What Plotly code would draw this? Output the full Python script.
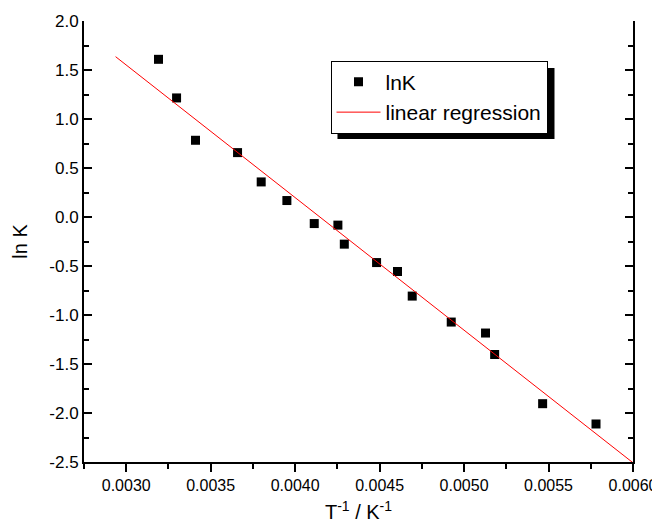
import plotly.graph_objects as go

# Data
inv_T = [0.003191, 0.003298, 0.003410, 0.003659, 0.003799, 0.003951, 0.004113,
         0.004253, 0.004291, 0.004482, 0.004606, 0.004693, 0.004924, 0.005127,
         0.005181, 0.005465, 0.005781]
lnK = [1.609, 1.215, 0.783, 0.657, 0.358, 0.168, -0.067,
       -0.083, -0.277, -0.465, -0.556, -0.807, -1.072, -1.184,
       -1.403, -1.905, -2.112]

reg_x = [0.002937, 0.0060]
reg_y = [1.636, -2.508]

y_tickvals = [2.0, 1.5, 1.0, 0.5, 0.0, -0.5, -1.0, -1.5, -2.0, -2.5]
y_ticktext = ["2.0", "1.5", "1.0", "0.5", "0.0", "-0.5", "-1.0", "-1.5", "-2.0", "-2.5"]
x_tickvals = [0.0030, 0.0035, 0.0040, 0.0045, 0.0050, 0.0055, 0.0060]
x_ticktext = ["0.0030", "0.0035", "0.0040", "0.0045", "0.0050", "0.0055", "0.0060"]

FONT = "Liberation Sans, Arial, sans-serif"

fig = go.Figure()
fig.add_trace(go.Scatter(x=inv_T, y=lnK, mode="markers", name="lnK",
                         marker=dict(symbol="square", size=9, color="black")))
fig.add_trace(go.Scatter(x=reg_x, y=reg_y, mode="lines", name="linear regression",
                         line=dict(color="#ff0000", width=1)))

# page body has an 8px margin, so the figure is drawn 8px smaller and offset
W, H = 652, 523
ml, mr, mt, mb = 76, 27, 13, 69

fig.update_layout(
    width=W, height=H,
    margin=dict(l=ml, r=mr, t=mt, b=mb, autoexpand=False),
    paper_bgcolor="white", plot_bgcolor="white",
    font=dict(family=FONT, color="black", size=17),
    showlegend=True,
    legend=dict(x=0.449, y=0.91, xanchor="left", yanchor="top",
                bgcolor="white", bordercolor="black", borderwidth=1,
                font=dict(size=21, family=FONT), itemwidth=44,
                tracegroupgap=0),
    xaxis=dict(range=[0.00275, 0.0060], tickvals=x_tickvals, ticktext=x_ticktext,
               automargin=False,
               ticks="outside", ticklen=8, tickwidth=2, tickcolor="black",
               showline=True, linewidth=2, linecolor="black",
               showgrid=False, zeroline=False,
               minor=dict(dtick=0.00025, tick0=0.003, ticks="outside", ticklen=5,
                          tickwidth=2, tickcolor="black", showgrid=False),
               tickfont=dict(size=16),
               title=dict(text="T<sup>-1</sup> / K<sup>-1</sup>", font=dict(size=20), standoff=12)),
    xaxis2=dict(range=[0.00275, 0.0060], overlaying="x", side="top",
                tickvals=x_tickvals, showticklabels=False, automargin=False,
                ticks="inside", ticklen=8, tickwidth=2, tickcolor="black",
                showline=True, linewidth=2, linecolor="black",
                showgrid=False, zeroline=False,
                minor=dict(dtick=0.00025, tick0=0.003, ticks="inside", ticklen=5,
                           tickwidth=2, tickcolor="black", showgrid=False)),
    yaxis=dict(range=[-2.5, 2.0], tickvals=y_tickvals, ticktext=y_ticktext,
               automargin=False,
               ticks="inside", ticklen=8, tickwidth=2, tickcolor="black",
               showline=True, linewidth=2, linecolor="black", mirror="ticks",
               showgrid=False, zeroline=False,
               minor=dict(dtick=0.25, tick0=0, ticks="inside", ticklen=5,
                          tickwidth=2, tickcolor="black", showgrid=False),
               tickfont=dict(size=17),
               title=dict(text="ln K", font=dict(size=20), standoff=16)),
)

# Legend drop shadow (offset behind the legend box)
fig.add_shape(type="rect", xref="paper", yref="paper",
              x0=0.4617, x1=0.857, y0=0.7324, y1=0.8934,
              fillcolor="black", line=dict(width=0), layer="above")

fig.write_html("out.html")
